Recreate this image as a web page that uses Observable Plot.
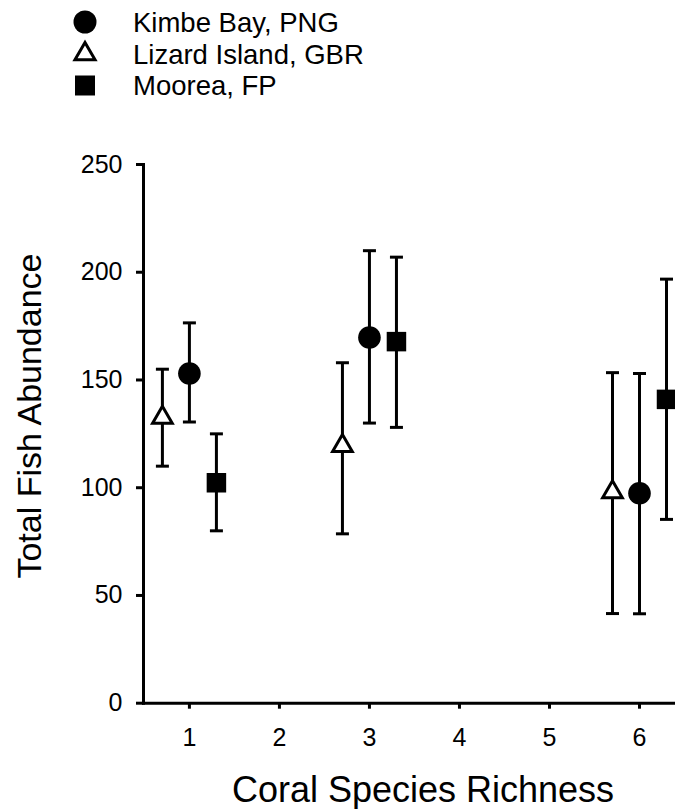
<!DOCTYPE html>
<html><head><meta charset="utf-8">
<script src="https://cdn.jsdelivr.net/npm/d3@7"></script>
<script src="https://cdn.jsdelivr.net/npm/@observablehq/plot@0.6"></script>
<style>
html,body{margin:0;padding:0;background:#fff;overflow:hidden;}
#legend svg, #chart svg{display:block;}
</style></head><body>
<div id="legend"></div><div id="chart"></div>
<script>
// ---- data ----
const sites = ["Kimbe Bay, PNG", "Lizard Island, GBR", "Moorea, FP"];
const richness = [1, 3, 6];
const kimbeMean = [153, 169.7, 97.4];
const kimbeLow = [130.5, 130, 41.5];
const kimbeHigh = [176.5, 210, 153];
const lizardMean = [132.5, 119.4, 98];
const lizardLow = [110, 78.6, 41.6];
const lizardHigh = [155, 158, 153.4];
const mooreaMean = [102.3, 167.8, 141];
const mooreaLow = [80, 128, 85.3];
const mooreaHigh = [125, 207, 196.8];
const yTicks = [0, 50, 100, 150, 200, 250];
const xTicks = [1, 2, 3, 4, 5, 6];
const xLabel = "Coral Species Richness";
const yLabel = "Total Fish Abundance";

// ---- build table ----
const dodge = {"Kimbe Bay, PNG": 0, "Lizard Island, GBR": -0.3, "Moorea, FP": 0.3};
const series = [
  [sites[0], kimbeMean, kimbeLow, kimbeHigh],
  [sites[1], lizardMean, lizardLow, lizardHigh],
  [sites[2], mooreaMean, mooreaLow, mooreaHigh]
];
const rows = series.flatMap(([site, m, lo, hi]) =>
  richness.map((r, i) => ({site, richness: r, mean: m[i], low: lo[i], high: hi[i]})));
const xPos = d => d.richness + dodge[d.site];

const cap = {draw(ctx) { ctx.moveTo(-6.5, 0); ctx.lineTo(6.5, 0); }};
const font = "'Liberation Sans', Arial, Helvetica, sans-serif";

// ---- legend ----
const leg = d3.select("#legend").append("svg").attr("width", 675).attr("height", 100)
  .style("font-family", font);
const legItems = [
  {site: sites[0], sym: d3.symbolCircle, size: Math.PI * 11.5 * 11.5, fill: "black", stroke: "none", y: 22},
  {site: sites[1], sym: d3.symbolTriangle, size: 175, fill: "white", stroke: "black", y: 54},
  {site: sites[2], sym: d3.symbolSquare, size: 400, fill: "black", stroke: "none", y: 85.5}
];
legItems.forEach(it => {
  leg.append("path").attr("d", d3.symbol(it.sym, it.size)())
    .attr("transform", `translate(85,${it.y})`)
    .attr("fill", it.fill).attr("stroke", it.stroke).attr("stroke-width", 3);
  leg.append("text").attr("x", 133).attr("y", it.y + 9.5)
    .attr("font-size", 27.5).attr("fill", "black").text(it.site);
});

// ---- chart ----
const chart = Plot.plot({
  width: 675, height: 709,
  marginTop: 64, marginBottom: 106.3, marginLeft: 143, marginRight: 0,
  style: {fontFamily: font, color: "black", background: "white"},
  x: {domain: [0.49, 6.4]},
  y: {domain: [0, 250]},
  marks: [
    Plot.axisY({ticks: yTicks, tickSize: 7, tickPadding: 14, strokeWidth: 3, fontSize: 25, label: null, tickFormat: d => String(d)}),
    Plot.axisX({ticks: xTicks, tickSize: 6, tickPadding: 19, strokeWidth: 3, fontSize: 25, label: null, tickFormat: d => String(d)}),
    Plot.frame({anchor: "left", strokeWidth: 3}),
    Plot.frame({anchor: "bottom", strokeWidth: 3}),
    Plot.ruleX(rows, {x: xPos, y1: "low", y2: "high", stroke: "black", strokeWidth: 3}),
    Plot.dot(rows, {x: xPos, y: "low", symbol: cap, fill: "none", stroke: "black", strokeWidth: 3}),
    Plot.dot(rows, {x: xPos, y: "high", symbol: cap, fill: "none", stroke: "black", strokeWidth: 3}),
    Plot.dot(rows.filter(d => d.site === sites[0]), {x: xPos, y: "mean", symbol: "circle", r: 11.3, fill: "black"}),
    Plot.dot(rows.filter(d => d.site === sites[1]), {x: xPos, y: "mean", symbol: "triangle", r: 7.3, fill: "white", stroke: "black", strokeWidth: 3}),
    Plot.dot(rows.filter(d => d.site === sites[2]), {x: xPos, y: "mean", symbol: "square", r: 11, fill: "black"}),
    Plot.text([yLabel], {frameAnchor: "left", textAnchor: "middle", lineAnchor: "middle", dx: -113.5, dy: -17.8, rotate: -90, fontSize: 34, fill: "black"}),
    Plot.text([xLabel], {frameAnchor: "bottom", textAnchor: "middle", dx: 13.5, dy: 99, lineAnchor: "bottom", fontSize: 36, fill: "black"})
  ]
});
document.getElementById("chart").appendChild(chart);
</script>
</body></html>
